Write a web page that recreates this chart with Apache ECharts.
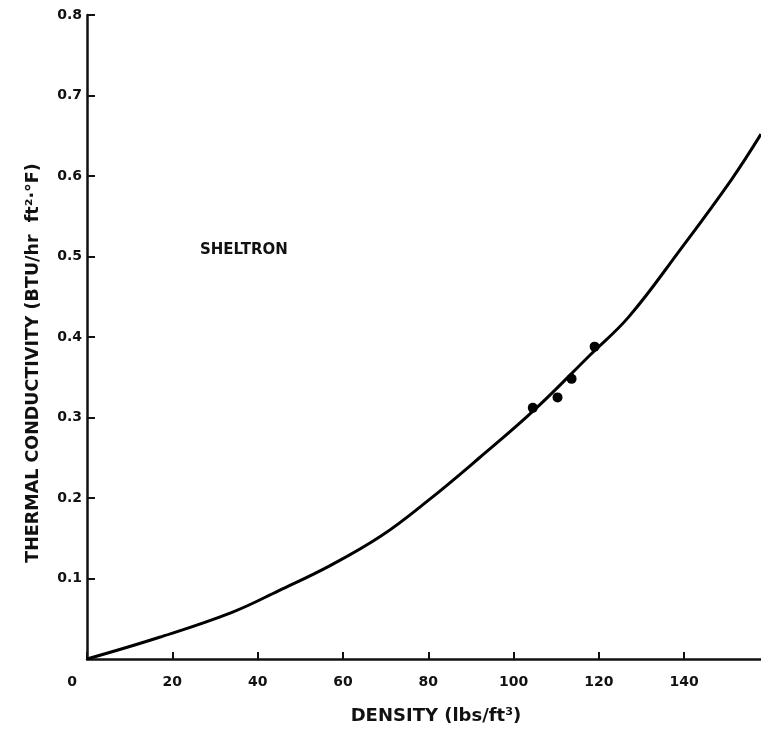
<!DOCTYPE html>
<html>
<head>
<meta charset="utf-8">
<script src="https://cdn.jsdelivr.net/npm/echarts@6/dist/echarts.min.js"></script>
<style>
  html, body { margin: 0; padding: 0; background: #fff; }
  #chart { width: 761px; height: 736px; }
</style>
</head>
<body>
<div id="chart"></div>
<script>
// 曲线
const curveX = [0, 17, 34, 45, 57, 69, 80, 92, 105, 118, 127, 139, 151, 158]
const curveY = [0, 0.027, 0.058, 0.085, 0.116, 0.153, 0.197, 0.250, 0.310, 0.378, 0.425, 0.508, 0.595, 0.652]
// 实测点
const dotX = [104.5, 110.3, 113.6, 119]
const dotY = [0.312, 0.325, 0.348, 0.388]
const xTicks = [0, 20, 40, 60, 80, 100, 120, 140]

const font = 'DejaVu Sans'

let myChart = echarts.init(document.getElementById('chart'))
let option = {
  animation: false,
  backgroundColor: '#fff',
  title: {
    text: 'SHELTRON',
    left: 195,
    top: 238,
    textStyle: { fontFamily: font, fontWeight: 'bold', fontSize: 15, color: '#111' }
  },
  grid: { left: 87, right: 0, top: 15, bottom: 77 },
  xAxis: {
    type: 'value',
    min: 0,
    max: 158,
    interval: 20,
    name: 'DENSITY (lbs/ft³)',
    nameLocation: 'middle',
    nameGap: 48,
    nameTextStyle: { fontFamily: font, fontWeight: 'bold', fontSize: 18, color: '#111', padding: [0, 0, 0, 24] },
    axisLine: { lineStyle: { color: '#111', width: 2.5 } },
    axisTick: { inside: true, length: 7, lineStyle: { color: '#111', width: 2 }, customValues: xTicks },
    splitLine: { show: false },
    axisLabel: {
      customValues: xTicks,
      margin: 16,
      fontFamily: font,
      fontWeight: 'bold',
      fontSize: 14,
      color: '#111',
      formatter: v => v === 0 ? '{o|0}' : String(v),
      rich: { o: { fontFamily: font, fontWeight: 'bold', fontSize: 14, color: '#111', padding: [0, 30, 6, 0] } }
    }
  },
  yAxis: {
    type: 'value',
    min: 0,
    max: 0.8,
    interval: 0.1,
    name: 'THERMAL CONDUCTIVITY (BTU/hr  ft²·°F)',
    nameLocation: 'middle',
    nameGap: 45,
    nameTextStyle: { fontFamily: font, fontWeight: 'bold', fontSize: 17.5, color: '#111', padding: [0, 52, 0, 0] },
    axisLine: { lineStyle: { color: '#111', width: 2.5 } },
    axisTick: { inside: true, length: 8, lineStyle: { color: '#111', width: 2 } },
    splitLine: { show: false },
    axisLabel: {
      showMinLabel: false,
      margin: 5,
      fontFamily: font,
      fontWeight: 'bold',
      fontSize: 14,
      color: '#111',
      formatter: v => v.toFixed(1)
    }
  },
  series: [
    {
      type: 'line',
      smooth: 0.4,
      symbol: 'none',
      data: curveX.map((x, i) => [x, curveY[i]]),
      lineStyle: { color: '#000', width: 3 }
    },
    {
      type: 'scatter',
      symbolSize: 10,
      data: dotX.map((x, i) => [x, dotY[i]]),
      itemStyle: { color: '#000', opacity: 1 }
    }
  ]
}
myChart.setOption(option)
</script>
</body>
</html>
